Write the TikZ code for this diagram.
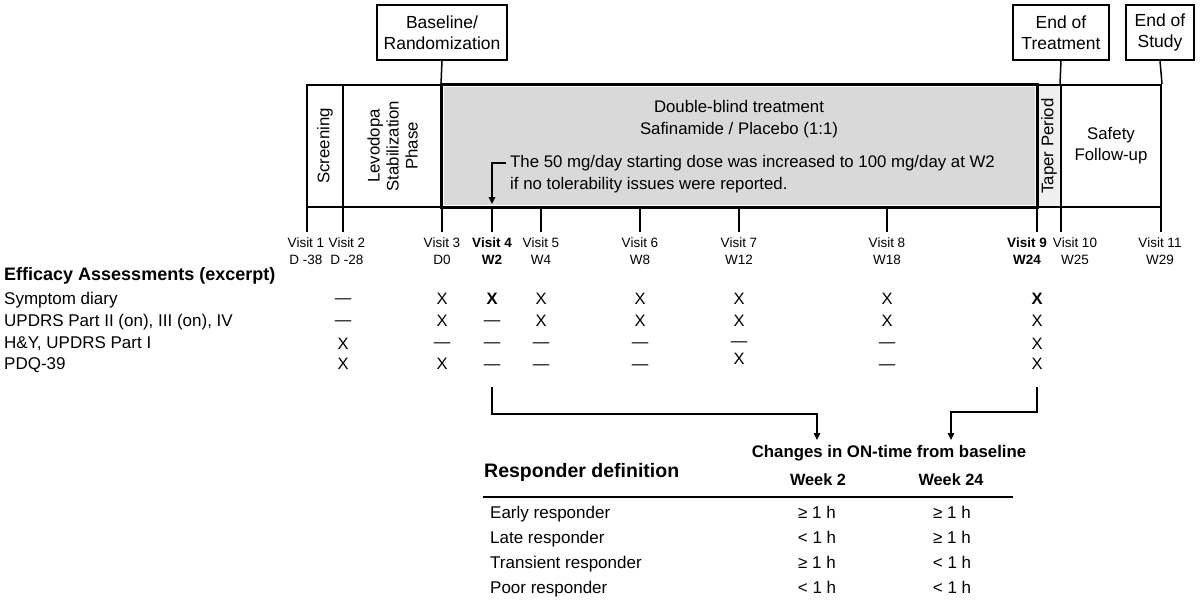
\documentclass[tikz,border=0pt]{standalone}
\usepackage{fontspec}
\setmainfont{Liberation Sans}
\usetikzlibrary{arrows.meta}
\definecolor{dbgray}{HTML}{D9D9D9}
\definecolor{tpgray}{HTML}{EFEFEF}
\begin{document}
\begin{tikzpicture}[x=1pt,y=-1pt,
  col/.style={draw=black,line width=2pt,inner sep=0pt,minimum height=122pt},
  topbox/.style={draw=black,line width=1.5pt,fill=white,inner sep=0pt,minimum height=55pt,align=center,font=\fontsize{17.5}{21}\selectfont},
  rot/.style={rotate=90,align=center,font=\fontsize{16.8}{19}\selectfont,inner sep=0pt},
  lnk/.style={line width=1.5pt},
  tick/.style={line width=1.3pt},
  vis/.style={align=center,inner sep=0pt,font=\fontsize{13.5}{17}\selectfont},
  visb/.style={vis,font=\fontsize{13.5}{17}\selectfont\bfseries},
  mk/.style={anchor=base,inner sep=0pt,font=\fontsize{16.5}{18}\selectfont},
  mkb/.style={mk,font=\fontsize{16.5}{18}\selectfont\bfseries},
  rowlab/.style={anchor=base west,inner sep=0pt,font=\fontsize{17}{18}\selectfont},
  txt/.style={inner sep=0pt,font=\fontsize{16.8}{22}\selectfont},
  tab/.style={anchor=base,inner sep=0pt,font=\fontsize{17}{18}\selectfont},
  arr/.style={line width=1.3pt,-{Triangle[length=7pt,width=6.5pt]}}
]
\useasboundingbox (0,0) rectangle (1200,602);

% ---- study bar
\node[col,minimum width=36pt] (scr) at (325,146) {};
\node[col,minimum width=99pt] (lev) at (392.5,146) {};
\node[col,minimum width=595pt,fill=white] (dbt) at (739.5,146) {};
\fill[dbgray] (444,87) rectangle (1035,205);
\node[col,minimum width=24pt,fill=tpgray] (tap) at (1049,146) {};
\node[col,minimum width=100pt] (saf) at (1111,146) {};
\draw[line width=2pt] (dbt.north west) rectangle (dbt.south east);

\node[rot] (scrt) at (scr.center) {Screening};
\node[rot] (levt) at (lev.center) {Levodopa\\Stabilization\\Phase};
\node[rot] (tapt) at (tap.center) {Taper Period};
\node[align=center,inner sep=0pt,font=\fontsize{16.8}{21}\selectfont] (saft) at (saf.center) {Safety\\Follow-up};
\node[align=center,txt] (dbtt) at (739,119) {Double-blind treatment\\Safinamide / Placebo (1:1)};
\node[txt,anchor=west,inner xsep=4pt] (ann1) at (506,163) {The 50 mg/day starting dose was increased to 100 mg/day at W2};
\node[txt,anchor=west] (ann2) at (510,185) {if no tolerability issues were reported.};
\coordinate (anntip) at (492,204);
\draw[arr,line width=1.2pt] (ann1.west) -| (anntip);

% ---- milestone boxes
\node[topbox,minimum width=130pt] (base) at (442,32.5) {Baseline/\\Randomization};
\node[topbox,minimum width=96pt] (eot) at (1061,32.5) {End of\\Treatment};
\node[topbox,minimum width=68pt] (eos) at (1160,32.5) {End of\\Study};
\draw[lnk] (base.south) -- (dbt.north west);
\draw[lnk] (eot.south) -- (saf.north west);
\draw[lnk] (eos.south) -- (saf.north east);

% ---- visit ticks and labels
\foreach \n/\x in {1/307,2/343,3/442,4/492,5/541,6/640,7/739,8/887,9/1037,10/1061,11/1161}{
  \coordinate (tt\n) at (\x,208);
  \coordinate (tb\n) at (\x,232);
  \draw[tick] (tt\n) -- (tb\n);
}
\node[vis]  (v1)  at (306,251.5)  {Visit 1\\D -38};
\node[vis]  (v2)  at (347,251.5)  {Visit 2\\D -28};
\node[vis]  (v3)  at (442,251.5)  {Visit 3\\D0};
\node[visb] (v4)  at (492,251.5)  {Visit 4\\W2};
\node[vis]  (v5)  at (541,251.5)  {Visit 5\\W4};
\node[vis]  (v6)  at (640,251.5)  {Visit 6\\W8};
\node[vis]  (v7)  at (739,251.5)  {Visit 7\\W12};
\node[vis]  (v8)  at (887,251.5)  {Visit 8\\W18};
\node[visb] (v9)  at (1027,251.5) {Visit 9\\W24};
\node[vis]  (v10) at (1075,251.5) {Visit 10\\W25};
\node[vis]  (v11) at (1160,251.5) {Visit 11\\W29};

% ---- assessment rows
\node[rowlab,font=\fontsize{18}{20}\selectfont\bfseries] (hdr) at (4,280) {Efficacy Assessments (excerpt)};
\node[rowlab] (r1) at (4,304) {Symptom diary};
\node[rowlab] (r2) at (4,326) {UPDRS Part II (on), III (on), IV};
\node[rowlab] (r3) at (4,348) {H\&Y, UPDRS Part I};
\node[rowlab] (r4) at (4,369) {PDQ-39};

% row 1
\node[mk]  (a2) at (343,303) {—};
\node[mk]  (a3) at (442,304) {X};
\node[mkb] (a4) at (492,304) {X};
\node[mk]  (a5) at (541,304) {X};
\node[mk]  (a6) at (640,304) {X};
\node[mk]  (a7) at (739,304) {X};
\node[mk]  (a8) at (887,304) {X};
\node[mkb] (a9) at (1037,304) {X};
% row 2
\node[mk]  (b2) at (343,325) {—};
\node[mk]  (b3) at (442,326) {X};
\node[mk]  (b4) at (492,325) {—};
\node[mk]  (b5) at (541,326) {X};
\node[mk]  (b6) at (640,326) {X};
\node[mk]  (b7) at (739,326) {X};
\node[mk]  (b8) at (887,326) {X};
\node[mk]  (b9) at (1037,326) {X};
% row 3
\node[mk]  (c2) at (343,349) {X};
\node[mk]  (c3) at (442,347) {—};
\node[mk]  (c4) at (492,347) {—};
\node[mk]  (c5) at (541,347) {—};
\node[mk]  (c6) at (640,347) {—};
\node[mk]  (c7) at (739,346) {—};
\node[mk]  (c8) at (887,347) {—};
\node[mk]  (c9) at (1037,349) {X};
% row 4
\node[mk]  (d2) at (343,369) {X};
\node[mk]  (d3) at (442,369) {X};
\node[mk]  (d4) at (492,369) {—};
\node[mk]  (d5) at (541,369) {—};
\node[mk]  (d6) at (640,369) {—};
\node[mk]  (d7) at (739,364) {X};
\node[mk]  (d8) at (887,369) {—};
\node[mk]  (d9) at (1037,369) {X};

% ---- connectors to responder table
\coordinate (s4) at (492,387);
\coordinate (s9) at (1037,387);
\coordinate (tipA) at (817,440);
\coordinate (tipB) at (951,440);
\draw[arr] (s4) -- ++(0,27) -| (tipA);
\draw[arr] (s9) -- ++(0,25) -| (tipB);

% ---- responder table
\node[anchor=west,inner sep=0pt,font=\fontsize{19.5}{22}\selectfont\bfseries] (rdef) at (484,472) {Responder definition};
\node[inner sep=0pt,font=\fontsize{16.8}{18}\selectfont\bfseries] (chg) at (889,453) {Changes in ON-time from baseline};
\node[inner sep=0pt,font=\fontsize{16.3}{18}\selectfont\bfseries] (wk2) at (818,480) {Week 2};
\node[inner sep=0pt,font=\fontsize{16.3}{18}\selectfont\bfseries] (wk24) at (951,480) {Week 24};
\coordinate (rl) at (483,497);
\coordinate (rr) at (1013,497);
\draw[line width=1.5pt] (rl) -- (rr);

\node[rowlab] (e1) at (490,518) {Early responder};
\node[rowlab] (e2) at (490,543) {Late responder};
\node[rowlab] (e3) at (490,568) {Transient responder};
\node[rowlab] (e4) at (490,593) {Poor responder};
\node[tab] (f1) at (817,518) {≥ 1 h};
\node[tab] (g1) at (952,518) {≥ 1 h};
\node[tab] (f2) at (817,543) {< 1 h};
\node[tab] (g2) at (952,543) {≥ 1 h};
\node[tab] (f3) at (817,568) {≥ 1 h};
\node[tab] (g3) at (952,568) {< 1 h};
\node[tab] (f4) at (817,593) {< 1 h};
\node[tab] (g4) at (952,593) {< 1 h};
\end{tikzpicture}
\end{document}
